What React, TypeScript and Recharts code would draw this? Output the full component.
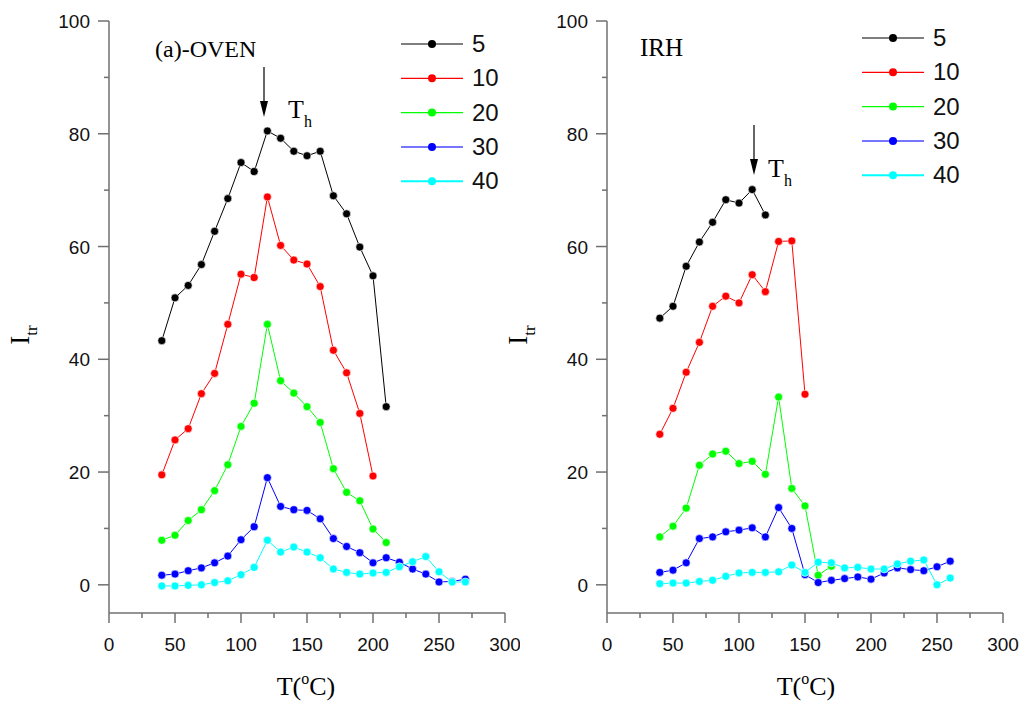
import React from 'react';
import { LineChart, Line, XAxis, YAxis } from 'recharts';

// temperatures (°C)
const ovenTemps = [40, 50, 60, 70, 80, 90, 100, 110, 120, 130, 140, 150, 160, 170, 180, 190, 200, 210, 220, 230, 240, 250, 260, 270];
const irhTemps = [40, 50, 60, 70, 80, 90, 100, 110, 120, 130, 140, 150, 160, 170, 180, 190, 200, 210, 220, 230, 240, 250, 260];

// (a)-OVEN
const oven5 = [43.3, 50.9, 53.1, 56.8, 62.7, 68.5, 74.9, 73.3, 80.5, 79.2, 76.9, 76.1, 76.9, 69.0, 65.8, 59.9, 54.8, 31.6];
const oven10 = [19.5, 25.7, 27.7, 33.9, 37.5, 46.2, 55.1, 54.5, 68.8, 60.2, 57.6, 56.9, 52.9, 41.6, 37.6, 30.4, 19.3];
const oven20 = [7.9, 8.8, 11.4, 13.3, 16.7, 21.3, 28.1, 32.2, 46.2, 36.2, 34.0, 31.6, 28.8, 20.6, 16.4, 14.9, 9.9, 7.5];
const oven30 = [1.7, 1.9, 2.5, 3.0, 3.9, 5.1, 8.0, 10.3, 19.0, 13.9, 13.3, 13.2, 11.7, 8.2, 6.8, 5.7, 3.9, 4.8, 4.0, 2.8, 1.9, 0.5, 0.6, 1.0];
const oven40 = [-0.2, -0.2, -0.1, 0.0, 0.4, 0.7, 1.8, 3.1, 7.9, 5.8, 6.7, 5.8, 4.8, 2.8, 2.2, 1.9, 2.1, 2.2, 3.2, 4.1, 5.0, 2.3, 0.5, 0.5];

// IRH
const irh5 = [47.3, 49.4, 56.5, 60.8, 64.3, 68.3, 67.7, 70.1, 65.6];
const irh10 = [26.7, 31.3, 37.7, 43.0, 49.4, 51.2, 50.0, 55.0, 52.0, 60.9, 61.0, 33.8];
const irh20 = [8.5, 10.4, 13.6, 21.2, 23.2, 23.7, 21.5, 21.9, 19.6, 33.3, 17.1, 14.0, 1.7, 3.3];
const irh30 = [2.2, 2.6, 3.9, 8.2, 8.5, 9.4, 9.7, 10.1, 8.5, 13.7, 10.0, 1.8, 0.4, 0.8, 1.1, 1.4, 1.0, 2.1, 3.0, 2.7, 2.5, 3.2, 4.2];
const irh40 = [0.2, 0.3, 0.3, 0.6, 0.8, 1.5, 2.1, 2.2, 2.2, 2.3, 3.5, 2.2, 4.0, 3.9, 3.0, 3.1, 2.8, 2.8, 3.7, 4.2, 4.4, 0.0, 1.2];

const seriesNames = ['5', '10', '20', '30', '40'];
const seriesColors = ['#000000', '#ff0000', '#00ff00', '#0000ff', '#00ffff'];
const legendLineColors = ['#000000', '#ff0000', '#00ff00', '#7575ff', '#00ffff'];

const xTicks = [0, 25, 50, 75, 100, 125, 150, 175, 200, 225, 250, 275, 300];
const yTicks = [0, 10, 20, 30, 40, 50, 60, 70, 80, 90, 100];

const AXIS = '#707070';
const SANS = '"Liberation Sans", Arial, sans-serif';
const SERIF = '"Liberation Serif", "Times New Roman", serif';
const PLOT_BOTTOM = 613;

const toRows = (temps: number[], vals: number[]) => vals.map((v, i) => ({ T: temps[i], v }));

const ovenSeries = [oven5, oven10, oven20, oven30, oven40].map((vals) => toRows(ovenTemps, vals));
const irhSeries = [irh5, irh10, irh20, irh30, irh40].map((vals) => toRows(irhTemps, vals));

function Panel({ rows, left, yAxisWidth, rightMargin }: { rows: { T: number; v: number }[][]; left: number; yAxisWidth: number; rightMargin: number }) {
  const axisX = yAxisWidth;

  const xTick = (props: any) => {
    const { x, payload } = props;
    const major = payload.value % 50 === 0;
    return (
      <g>
        <line x1={x} x2={x} y1={PLOT_BOTTOM} y2={PLOT_BOTTOM + (major ? 10 : 5)} stroke={AXIS} strokeWidth={1.5} />
        {major && (
          <text x={x} y={PLOT_BOTTOM + 38} textAnchor="middle" fontFamily={SANS} fontSize={19} fill="#111">
            {payload.value}
          </text>
        )}
      </g>
    );
  };

  const yTick = (props: any) => {
    const { y, payload } = props;
    const major = payload.value % 20 === 0;
    return (
      <g>
        <line x1={axisX - (major ? 11 : 5)} x2={axisX} y1={y} y2={y} stroke={AXIS} strokeWidth={1.5} />
        {major && (
          <text x={axisX - 19} y={y + 7} textAnchor="end" fontFamily={SANS} fontSize={19} fill="#111">
            {payload.value}
          </text>
        )}
      </g>
    );
  };

  return (
    <div style={{ position: 'absolute', left, top: 0 }}>
      <LineChart width={520} height={713} margin={{ top: 21, right: rightMargin, bottom: 0, left: 0 }}>
        <XAxis
          type="number"
          dataKey="T"
          domain={[0, 300]}
          ticks={xTicks}
          interval={0}
          height={100}
          axisLine={{ stroke: AXIS, strokeWidth: 1.5 }}
          tickLine={false}
          tick={xTick}
        />
        <YAxis
          type="number"
          domain={[-5, 100]}
          ticks={yTicks}
          interval={0}
          width={yAxisWidth}
          axisLine={{ stroke: AXIS, strokeWidth: 1.5 }}
          tickLine={false}
          tick={yTick}
        />
        {rows.map((data, i) => (
          <Line
            key={seriesNames[i]}
            data={data}
            dataKey="v"
            name={seriesNames[i]}
            stroke={seriesColors[i]}
            strokeWidth={1}
            dot={{ r: 4, fill: seriesColors[i], stroke: '#ffffff', strokeWidth: 0.6 }}
            isAnimationActive={false}
          />
        ))}
      </LineChart>
    </div>
  );
}

function LegendBlock({ x, y }: { x: number; y: number }) {
  return (
    <g>
      {seriesNames.map((name, i) => {
        const yy = y + i * 34.3;
        return (
          <g key={name}>
            <line x1={x} x2={x + 62} y1={yy} y2={yy} stroke={legendLineColors[i]} strokeWidth={i >= 3 ? 2 : 1.2} />
            <circle cx={x + 31} cy={yy} r={4} fill={seriesColors[i]} />
            <text x={x + 71} y={yy + 8} fontFamily={SANS} fontSize={24} fill="#111">
              {name}
            </text>
          </g>
        );
      })}
    </g>
  );
}

function Arrow({ x, y1, y2 }: { x: number; y1: number; y2: number }) {
  return (
    <g>
      <line x1={x} x2={x} y1={y1} y2={y2 - 10} stroke="#000" strokeWidth={1.2} />
      <path d={`M ${x - 4} ${y2 - 16} L ${x + 4} ${y2 - 16} L ${x} ${y2} Z`} fill="#000" />
    </g>
  );
}

function Th({ x, y }: { x: number; y: number }) {
  return (
    <text x={x} y={y} fontFamily={SERIF} fontSize={26} fill="#000">
      T
      <tspan fontSize={16} dy={9}>h</tspan>
    </text>
  );
}

function YLabel({ x, y }: { x: number; y: number }) {
  return (
    <text transform={`translate(${x}, ${y}) rotate(-90)`} textAnchor="middle" fontFamily={SERIF} fontSize={27} fill="#000">
      I
      <tspan fontSize={17} dy={8}>tr</tspan>
    </text>
  );
}

function XLabel({ x, y }: { x: number; y: number }) {
  return (
    <text x={x} y={y} textAnchor="middle" fontFamily={SERIF} fontSize={26} fill="#000">
      T(
      <tspan fontSize={16} dy={-11}>o</tspan>
      <tspan dy={11}>C)</tspan>
    </text>
  );
}

export default function App() {
  return (
    <div style={{ position: 'absolute', left: 0, top: 0, width: 1030, height: 713, background: '#fff' }}>
      <Panel rows={ovenSeries} left={0} yAxisWidth={109} rightMargin={15} />
      <Panel rows={irhSeries} left={510} yAxisWidth={97} rightMargin={27} />
      <svg width={1030} height={713} style={{ position: 'absolute', left: 0, top: 0, pointerEvents: 'none' }}>
        <text x={155} y={57} fontFamily={SERIF} fontSize={24} fill="#000">(a)-OVEN</text>
        <text x={640} y={56} fontFamily={SERIF} fontSize={25} fill="#000">IRH</text>
        <Arrow x={264} y1={67} y2={117} />
        <Th x={288} y={118} />
        <Arrow x={754} y1={125} y2={175} />
        <Th x={768} y={177} />
        <LegendBlock x={401} y={44} />
        <LegendBlock x={862} y={38} />
        <YLabel x={29} y={335} />
        <YLabel x={527} y={335} />
        <XLabel x={306} y={695} />
        <XLabel x={806} y={695} />
      </svg>
    </div>
  );
}
